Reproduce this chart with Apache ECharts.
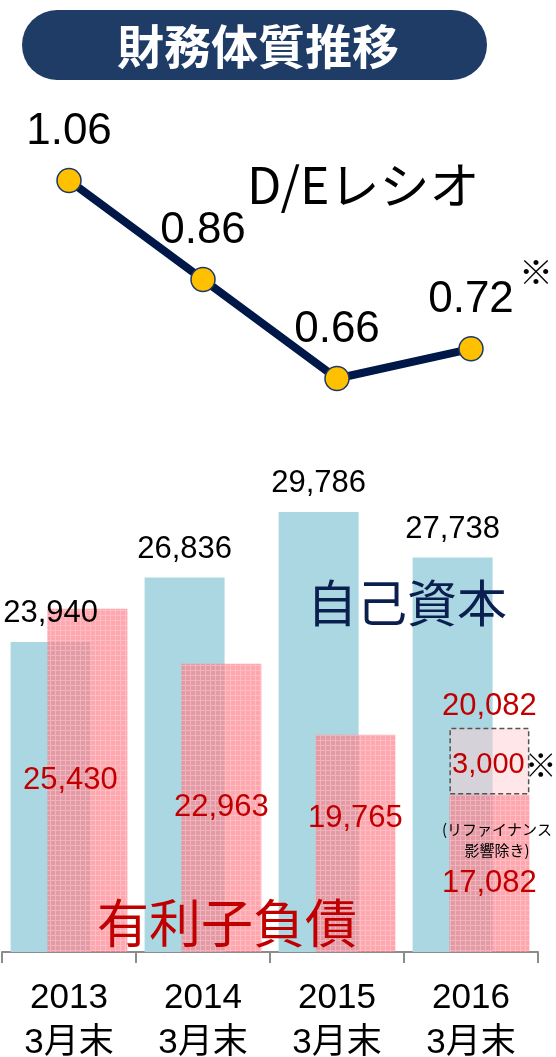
<!DOCTYPE html>
<html>
<head>
<meta charset="utf-8">
<script src="https://cdn.jsdelivr.net/npm/echarts@6/dist/echarts.min.js"></script>
<style>
  html, body { margin: 0; padding: 0; background: #ffffff; }
  #chart { width: 556px; height: 1057px; }
</style>
</head>
<body>
<div id="chart"></div>
<script>
// Fiscal year ends
const categories = ['2013\n3月末', '2014\n3月末', '2015\n3月末', '2016\n3月末'];
// D/E ratio
const deRatio = [1.06, 0.86, 0.66, 0.72];
// Shareholders' equity (自己資本)
const equity = [23940, 26836, 29786, 27738];
// Interest-bearing debt (有利子負債)
const debt = [25430, 22963, 19765, 20082];
// Portion of debt attributable to refinancing
const refinanceEffect = [0, 0, 0, 3000];

const LATIN = "'Liberation Sans', Arial, 'Noto Sans CJK JP', sans-serif";
const CJK = "'Noto Sans CJK JP', 'Noto Sans', sans-serif";
const RED = '#c00000';

const fmt = v => Number(v).toLocaleString('en-US');

// fine pink mesh used for the debt bars
function meshPattern(alpha) {
  const c = document.createElement('canvas');
  c.width = 5; c.height = 5;
  const g = c.getContext('2d');
  g.fillStyle = 'rgba(255,125,135,' + alpha + ')';
  g.fillRect(0, 0, 5, 5);
  g.fillStyle = 'rgba(255,220,224,0.4)';
  g.fillRect(0, 0, 5, 1);
  g.fillRect(0, 1, 1, 4);
  return c;
}

const debtBase = debt.map((v, i) => v - refinanceEffect[i]);
const baseLabelOffsets = [[-17, 0], [0, 0], [0, -25], [0, 10]];

const chart = echarts.init(document.getElementById('chart'), null, { renderer: 'canvas' });

chart.setOption({
  animation: false,
  backgroundColor: '#ffffff',
  grid: [
    { left: 2, right: 18, top: 160.7, height: 247.5, outerBoundsMode: 'none', containLabel: false },
    { left: 2, right: 18, top: 507.2, bottom: 105, outerBoundsMode: 'none', containLabel: false }
  ],
  xAxis: [
    { gridIndex: 0, type: 'category', data: categories, show: false },
    {
      gridIndex: 1, type: 'category', data: categories,
      axisLine: { lineStyle: { color: '#8c8c8c', width: 2 } },
      axisTick: { show: true, length: 11, lineStyle: { color: '#8c8c8c', width: 2 } },
      axisLabel: { fontSize: 35, lineHeight: 45, color: '#000', margin: 24, fontFamily: LATIN }
    }
  ],
  yAxis: [
    { gridIndex: 0, type: 'value', min: 0.6, max: 1.1, show: false, splitLine: { show: false } },
    { gridIndex: 1, type: 'value', min: 10000, max: 30000, startValue: 10000, show: false, splitLine: { show: false } }
  ],
  series: [
    {
      name: 'D/Eレシオ', type: 'line', xAxisIndex: 0, yAxisIndex: 0,
      data: deRatio,
      symbol: 'circle', symbolSize: 24,
      lineStyle: { color: '#001848', width: 8 },
      itemStyle: { color: '#ffc000', borderColor: '#1f3864', borderWidth: 1.5 },
      label: {
        show: true, position: 'top', distance: 14,
        fontSize: 44, color: '#000', fontFamily: LATIN,
        formatter: p => p.value.toFixed(2)
      },
      z: 3
    },
    {
      name: '自己資本', type: 'bar', xAxisIndex: 1, yAxisIndex: 1,
      data: equity,
      barWidth: 80, barGap: '-54%',
      itemStyle: { color: '#aad7e1' },
      label: {
        show: true, position: 'top', distance: 13,
        fontSize: 31, color: '#000', fontFamily: LATIN,
        formatter: p => fmt(p.value)
      }
    },
    {
      name: '有利子負債', type: 'bar', xAxisIndex: 1, yAxisIndex: 1, stack: 'debt',
      data: debtBase.map((v, i) => ({ value: v, label: { offset: baseLabelOffsets[i] } })),
      barWidth: 80, barGap: '-54%',
      itemStyle: { color: { image: meshPattern(0.68), repeat: 'repeat' } },
      label: {
        show: true, position: 'inside',
        fontSize: 31, color: RED, fontFamily: LATIN,
        formatter: p => fmt(p.value)
      }
    },
    {
      name: 'リファイナンス', type: 'bar', xAxisIndex: 1, yAxisIndex: 1, stack: 'debt',
      data: refinanceEffect.map(v => (v ? v : '-')),
      barWidth: 80, barGap: '-54%',
      itemStyle: {
        color: 'rgba(255,205,210,0.5)',
        borderColor: '#555555', borderWidth: 1.5, borderType: [5, 3]
      },
      label: {
        show: true, position: 'insideTop', distance: 0, offset: [0, -50],
        formatter: p => '{total|' + fmt(debt[p.dataIndex]) + '}\n{pad|}{part|' + fmt(p.value) + '}{mark|※}',
        rich: {
          total: { fontSize: 31, color: RED, fontFamily: LATIN, lineHeight: 58 },
          pad: { width: 30, lineHeight: 58 },
          part: { fontSize: 29, color: RED, fontFamily: LATIN, lineHeight: 58 },
          mark: { fontSize: 32, color: '#000', fontFamily: CJK, lineHeight: 58 }
        }
      }
    }
  ],
  graphic: [
    {
      type: 'rect', shape: { x: 22, y: 10, width: 465, height: 70, r: 35 },
      style: { fill: '#1e3c66' }, z: 10
    },
    {
      type: 'text', x: 258, y: 46, z: 11,
      style: {
        text: '財務体質推移', fill: '#ffffff', fontSize: 47, fontWeight: 'bold',
        fontFamily: CJK, align: 'center', verticalAlign: 'middle',
        textAlign: 'center', textVerticalAlign: 'middle'
      }
    },
    {
      type: 'text', x: 247, y: 185, z: 11,
      style: {
        text: 'D/Eレシオ', fill: '#000', fontSize: 50, fontFamily: CJK,
        align: 'left', verticalAlign: 'middle', textAlign: 'left', textVerticalAlign: 'middle'
      }
    },
    {
      type: 'text', x: 536, y: 272, z: 11,
      style: {
        text: '※', fill: '#000', fontSize: 34, fontFamily: CJK,
        align: 'center', verticalAlign: 'middle', textAlign: 'center', textVerticalAlign: 'middle'
      }
    },
    {
      type: 'text', x: 407, y: 603, z: 11,
      style: {
        text: '自己資本', fill: '#0b1f4f', fontSize: 50, fontFamily: CJK,
        align: 'center', verticalAlign: 'middle', textAlign: 'center', textVerticalAlign: 'middle'
      }
    },
    {
      type: 'text', x: 227, y: 923, z: 11,
      style: {
        text: '有利子負債', fill: RED, fontSize: 52, fontFamily: CJK,
        align: 'center', verticalAlign: 'middle', textAlign: 'center', textVerticalAlign: 'middle'
      }
    },
    {
      type: 'text', x: 497, y: 840, z: 11,
      style: {
        text: '(リファイナンス\n影響除き)', fill: '#000', fontSize: 15, lineHeight: 21, fontFamily: CJK,
        align: 'center', verticalAlign: 'middle', textAlign: 'center', textVerticalAlign: 'middle'
      }
    }
  ]
});
</script>
</body>
</html>
